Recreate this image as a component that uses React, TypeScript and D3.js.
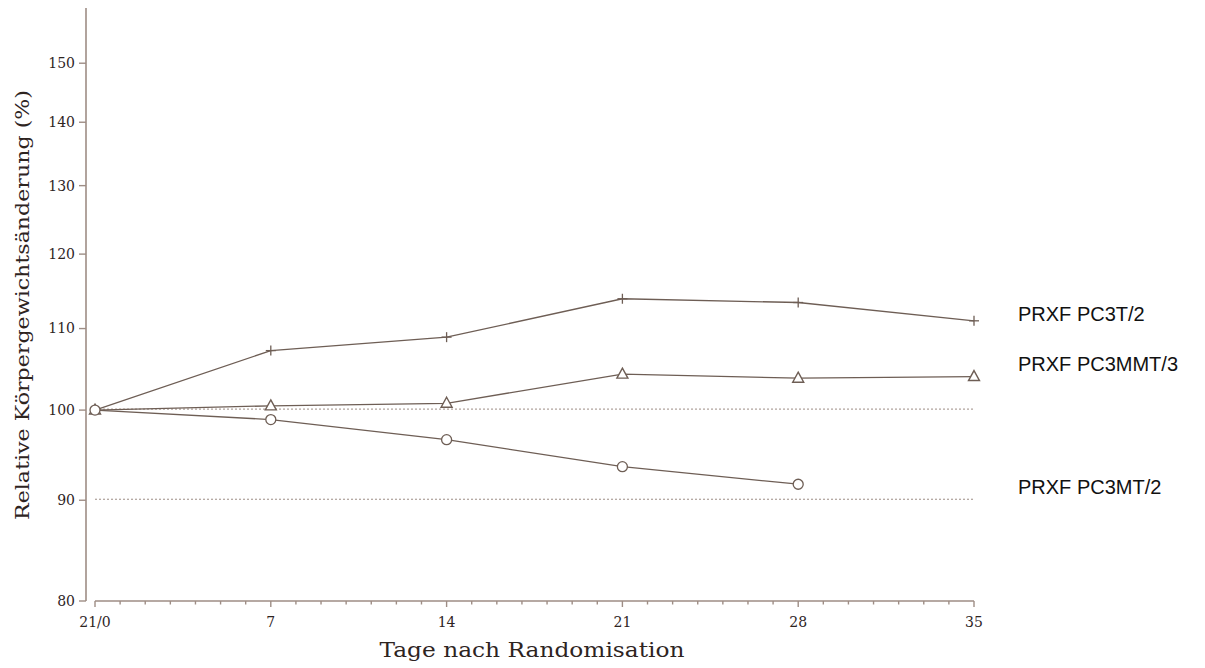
import React from "react";
import * as d3 from "d3";

// Relative Körpergewichtsänderung, PRXF PC3 Xenografts

const days = [0, 7, 14, 21, 28, 35];
const xTickLabels = ["21/0", "7", "14", "21", "28", "35"];
const yTicks = [80, 90, 100, 110, 120, 130, 140, 150];
const refLines = [100, 90];

const seriesNames = ["PRXF PC3T/2", "PRXF PC3MMT/3", "PRXF PC3MT/2"];
const pc3t = [100, 107.2, 108.9, 113.9, 113.4, 111.0];
const pc3mmt = [100, 100.5, 100.8, 104.3, 103.8, 104.0];
const pc3mt = [100, 98.9, 96.6, 93.6, 91.7];

const AXIS = "#9e8d85";
const LINE = "#6e5e55";
const TEXT = "#2e241f";
const SERIF = "'DejaVu Serif', 'Liberation Serif', serif";

const App = () => {
  const width = 1205;
  const height = 668;

  const x = d3.scaleLinear().domain([0, 35]).range([95, 974]);
  const y = d3.scaleLog().domain([80, 160]).range([601, 8]);

  const line = d3
    .line<number>()
    .x((d, i) => x(days[i]))
    .y(d => y(d));

  const minorDays = d3.range(0, 36);

  const marker = (kind: string, cx: number, cy: number, key: string) => {
    if (kind === "plus") {
      return (
        <g key={key} stroke={LINE} strokeWidth={1.3}>
          <line x1={cx} x2={cx} y1={cy - 5} y2={cy + 5} />
          <line x1={cx - 5} x2={cx + 5} y1={cy} y2={cy} />
        </g>
      );
    }
    if (kind === "tri") {
      return (
        <path
          key={key}
          d={`M${cx},${cy - 6}L${cx + 5.5},${cy + 4}L${cx - 5.5},${cy + 4}Z`}
          fill="white"
          stroke={LINE}
          strokeWidth={1.4}
        />
      );
    }
    return <circle key={key} cx={cx} cy={cy} r={5} fill="white" stroke={LINE} strokeWidth={1.3} />;
  };

  const series = [
    { name: seriesNames[0], values: pc3t, kind: "plus", labelY: 321 },
    { name: seriesNames[1], values: pc3mmt, kind: "tri", labelY: 371 },
    { name: seriesNames[2], values: pc3mt, kind: "circle", labelY: 494 },
  ];

  return (
    <svg
      width={width}
      height={height}
      style={{ position: "absolute", left: 0, top: 0, background: "white" }}
    >
      {/* reference lines */}
      {refLines.map(v => (
        <line
          key={v}
          x1={x(0)}
          x2={x(35)}
          y1={y(v) - 1}
          y2={y(v) - 1}
          stroke="#9c8c84"
          strokeWidth={1}
          strokeDasharray="2,2"
        />
      ))}

      {/* y axis */}
      <line x1={86} x2={86} y1={y(160)} y2={y(80)} stroke={AXIS} strokeWidth={1.6} />
      {yTicks.map(t => (
        <g key={t}>
          <line x1={79} x2={86} y1={y(t)} y2={y(t)} stroke={AXIS} strokeWidth={1.4} />
          <text
            x={75}
            y={y(t)}
            dy="0.35em"
            textAnchor="end"
            fontFamily={SERIF}
            fontSize={14}
            fill={TEXT}
          >
            {t}
          </text>
        </g>
      ))}

      {/* x axis */}
      <line x1={x(0)} x2={x(35)} y1={601} y2={601} stroke={AXIS} strokeWidth={1.6} />
      {minorDays.map(d => (
        <line
          key={d}
          x1={x(d)}
          x2={x(d)}
          y1={601}
          y2={d % 7 === 0 ? 607 : 604.5}
          stroke={AXIS}
          strokeWidth={1.4}
        />
      ))}
      {days.map((d, i) => (
        <text
          key={d}
          x={x(d)}
          y={627}
          textAnchor="middle"
          fontFamily={SERIF}
          fontSize={14}
          fill={TEXT}
        >
          {xTickLabels[i]}
        </text>
      ))}

      {/* axis titles */}
      <text
        x={532}
        y={657}
        textAnchor="middle"
        fontFamily={SERIF}
        fontSize={20}
        fill={TEXT}
        textLength={305}
        lengthAdjust="spacingAndGlyphs"
      >
        Tage nach Randomisation
      </text>
      <text
        transform="translate(29,305) rotate(-90)"
        textAnchor="middle"
        fontFamily={SERIF}
        fontSize={19}
        fill={TEXT}
        textLength={430}
        lengthAdjust="spacingAndGlyphs"
      >
        Relative Körpergewichtsänderung (%)
      </text>

      {/* series */}
      {series.map(s => (
        <g key={s.name}>
          <path d={line(s.values) || ""} fill="none" stroke={LINE} strokeWidth={1.3} />
          {s.values.map((v, i) => marker(s.kind, x(days[i]), y(v), `${s.name}-${i}`))}
          <text
            x={1018}
            y={s.labelY}
            fontFamily="'Liberation Sans', Arial, sans-serif"
            fontSize={20}
            fill="#111"
          >
            {s.name}
          </text>
        </g>
      ))}
    </svg>
  );
};

export default App;
